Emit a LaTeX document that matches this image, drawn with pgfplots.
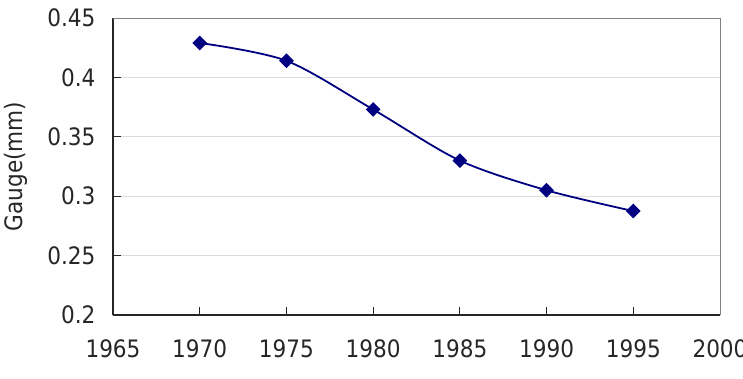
\documentclass[border=0pt]{standalone}
\usepackage{pgfplots}
\pgfplotsset{compat=1.18}
\usepackage{fontspec}
\setmainfont{DejaVu Sans Condensed}
\definecolor{navyline}{RGB}{0,0,128}
\definecolor{gridgray}{RGB}{220,220,220}
\definecolor{framegray}{RGB}{128,128,128}
\begin{document}
\begin{tikzpicture}
\begin{axis}[
  at={(0pt,0pt)}, anchor=south west,
  scale only axis, width=607pt, height=297pt,
  xmin=1965, xmax=2000, ymin=0.2, ymax=0.45,
  xtick={1965,1970,1975,1980,1985,1990,1995,2000},
  ytick={0.2,0.25,0.3,0.35,0.4,0.45},
  yticklabels={0.2,0.25,0.3,0.35,0.4,0.45},
  xticklabels={1965,1970,1975,1980,1985,1990,1995,2000},
  ymajorgrids, major grid style={gridgray, line width=1pt},
  axis x line*=bottom, axis y line*=left,
  axis line style={black!85, line width=1.2pt},
  x axis line style={-}, y axis line style={-},
  tick style={black!85, line width=1pt},
  xtick pos=bottom, ytick pos=left,
  tick align=inside, major tick length=8pt,
  tick label style={font=\fontsize{24}{28}\selectfont, text=black!85},
  xticklabel style={yshift=-21pt},
  yticklabel style={xshift=-14pt},
  ylabel={Gauge(mm)}, ylabel style={font=\fontsize{24}{28}\selectfont, text=black!85},
  ylabel shift=13pt,
  clip=false,
]
\draw[framegray, line width=1pt] (axis cs:1965,0.45) -- (axis cs:2000,0.45) -- (axis cs:2000,0.2);
\addplot[navyline, line width=1.8pt, smooth, tension=0.5, mark=square*, mark size=4.3pt, mark options={fill=navyline, draw=navyline, rotate=45}]
 coordinates {(1970,0.429) (1975,0.414) (1980,0.373) (1985,0.330) (1990,0.305) (1995,0.2875)};
\end{axis}
\pgfresetboundingbox
\path[use as bounding box] (-113pt,-63pt) rectangle (630pt,315pt);
\end{tikzpicture}
\end{document}
